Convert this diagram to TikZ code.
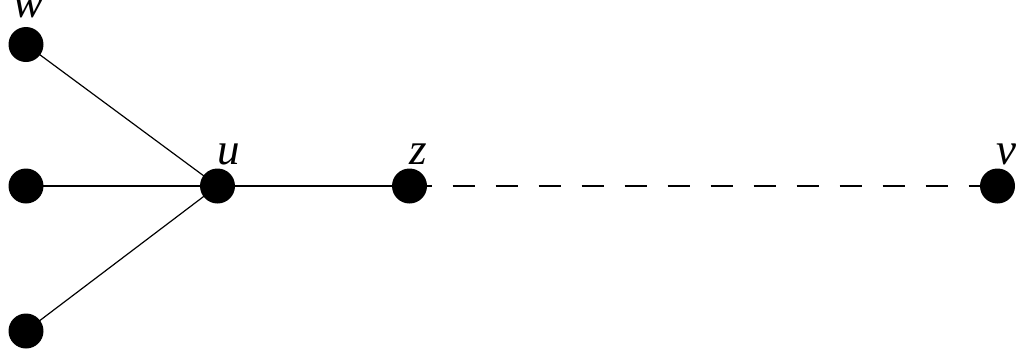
\documentclass[tikz,border=0pt]{standalone}
\usepackage{fontspec}
\setmainfont{Liberation Serif}
\newfontfamily\lblfont{Liberation Serif Italic}
\begin{document}
\begin{tikzpicture}[x=1pt,y=-1pt,
  vert/.style={circle,fill=black,inner sep=0pt,minimum size=35pt},
  lbl/.style={font=\lblfont\fontsize{45}{45}\selectfont,inner sep=0pt,anchor=base},
  edge/.style={line width=1.2pt},
  dedge/.style={line width=1.2pt,dash pattern=on 22pt off 21pt}]
\useasboundingbox (0,0) rectangle (1023,360);
\node[vert] (w) at (26,44.5) {};
\node[vert] (a) at (26,186) {};
\node[vert] (b) at (26,331) {};
\node[vert] (u) at (217.5,186) {};
\node[vert] (z) at (409.5,186) {};
\node[vert] (v) at (997.5,186) {};
\node[lbl] (lw) at (29,17) {w};
\node[lbl] (lu) at (229,164) {u};
\node[lbl] (lz) at (418,164) {z};
\node[lbl] (lv) at (1006,164) {v};
\draw[edge] (w.center) -- (u.center);
\draw[edge] (a.center) -- (u.center);
\draw[edge] (b.center) -- (u.center);
\draw[edge] (u.center) -- (z.center);
\draw[dedge] (z.center) -- (v.center);
\end{tikzpicture}
\end{document}
